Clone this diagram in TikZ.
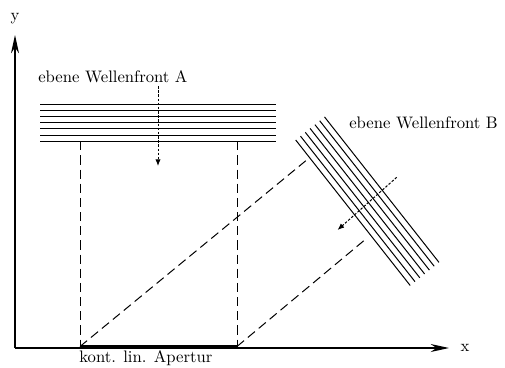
\documentclass[tikz,border=0pt]{standalone}
\usetikzlibrary{arrows.meta,calc}
\begin{document}
\begin{tikzpicture}[x=0.6pt,y=-0.6pt,
  axis/.style={line width=0.7pt,-{Stealth[length=11pt,width=4.8pt,inset=3.5pt]}},
  wave/.style={line width=0.6pt},
  proj/.style={line width=0.6pt,dash pattern=on 5.5pt off 3pt},
  prop/.style={line width=0.6pt,dash pattern=on 1.5pt off 1pt,-{Latex[length=4pt,width=3.2pt]}},
  lbl/.style={inner sep=0pt,font=\normalsize}]
\useasboundingbox (0,0) rectangle (505,367);
% axes
\coordinate (O) at (15,348);
\coordinate (Yt) at (15,35);
\coordinate (Xt) at (449,348);
\draw[axis] (O) -- (Yt);
\draw[axis] (O) -- (Xt);
\node[lbl,anchor=base] (ylab) at (15,21) {y};
\node[lbl,anchor=base] (xlab) at (465,351) {x};
% aperture
\coordinate (A1) at (80,346.5);
\coordinate (A2) at (237,346.5);
\draw[line width=1.8pt] (A1) -- (A2);
\node[lbl,anchor=base west] (aplab) at (79,362.5) {kont. lin. Apertur};
% wavefront A
\foreach \k in {0,...,6}{
  \draw[wave] (40,{104+6.2*\k}) -- (276,{104+6.2*\k});
}
\coordinate (WA1) at (80,141.2);
\coordinate (WA2) at (237,141.2);
\draw[proj] (WA1) -- (A1);
\draw[proj] (WA2) -- (A2);
\node[lbl,anchor=base west] (walab) at (38,82) {ebene Wellenfront A};
\coordinate (PA1) at (158,86);
\coordinate (PA2) at (158,166);
\draw[prop] (PA1) -- (PA2);
% wavefront B
\foreach \k in {0,...,6}{
  \draw[wave] ({295.7+4.8*\k},{140-3.85*\k}) -- ++(114.5,145.5);
}
\coordinate (WB1) at (306.7,160);
\coordinate (WB2) at (366.7,238.3);
\draw[proj] (A1) -- (WB1);
\draw[proj] (A2) -- (WB2);
\node[lbl,anchor=base west] (wblab) at (349,128) {ebene Wellenfront B};
\coordinate (PB1) at (396.7,177.3);
\coordinate (PB2) at (337.5,230);
\draw[prop] (PB1) -- (PB2);
\end{tikzpicture}
\end{document}
